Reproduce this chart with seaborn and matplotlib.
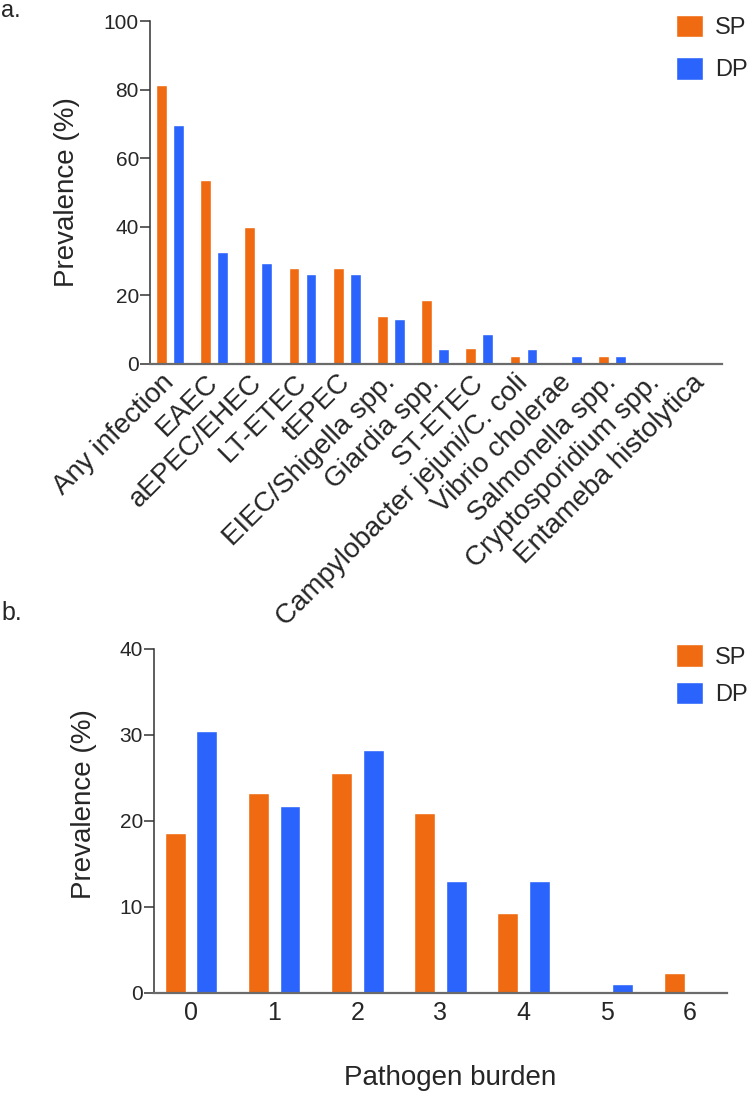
import matplotlib
matplotlib.use('Agg')
import matplotlib.pyplot as plt
import matplotlib.transforms as mtransforms
import numpy as np
import pandas as pd
import seaborn as sns

# ---- data ----
pathogens = ["Any infection", "EAEC", "aEPEC/EHEC", "LT-ETEC", "tEPEC",
             "EIEC/Shigella spp.", "Giardia spp.", "ST-ETEC",
             "Campylobacter jejuni/C. coli", "Vibrio cholerae",
             "Salmonella spp.", "Cryptosporidium spp.", "Entameba histolytica"]
sp_prev = [81.4, 53.5, 39.8, 27.9, 27.9, 14.0, 18.6, 4.7, 2.3, 0.0, 2.3, 0.0, 0.0]
dp_prev = [69.6, 32.6, 29.5, 26.1, 26.1, 13.0, 4.4, 8.7, 4.4, 2.2, 2.2, 0.0, 0.0]

burden = [0, 1, 2, 3, 4, 5, 6]
sp_burden = [18.6, 23.3, 25.6, 20.9, 9.3, 0.0, 2.3]
dp_burden = [30.4, 21.7, 28.3, 13.0, 13.0, 1.0, 0.0]

groups = ["SP", "DP"]
colors = {"SP": "#F06A11", "DP": "#2B64FC"}

df_a = pd.DataFrame({
    "pathogen": pathogens * 2,
    "group": ["SP"] * len(pathogens) + ["DP"] * len(pathogens),
    "prev": sp_prev + dp_prev,
})
df_b = pd.DataFrame({
    "burden": burden * 2,
    "group": ["SP"] * len(burden) + ["DP"] * len(burden),
    "prev": sp_burden + dp_burden,
})

sns.set_theme(style="ticks")
plt.rcParams['font.family'] = ['Liberation Sans', 'DejaVu Sans']

fig = plt.figure(figsize=(7.5, 10.95), dpi=100)
ax1 = fig.add_axes([0.2, 0.6676, 0.7627, 0.3132])
ax2 = fig.add_axes([0.2053, 0.0932, 0.764, 0.3142])


def style_axis(ax):
    sns.despine(ax=ax)
    ax.spines['left'].set_color('#333333')
    ax.spines['bottom'].set_color('#6b6b6b')
    ax.spines['left'].set_linewidth(1.1)
    ax.spines['bottom'].set_linewidth(1.6)
    ax.tick_params(axis='y', length=7, width=1.1, color='#333333',
                   labelsize=15, pad=1)
    ax.tick_params(axis='x', length=0)


# ---- panel a ----
sns.barplot(data=df_a, x="pathogen", y="prev", hue="group", order=pathogens,
            hue_order=groups, palette=colors, width=0.77, gap=0.36,
            saturation=1, ax=ax1)
ax1.set_ylim(0, 100)
ax1.set_yticks([0, 20, 40, 60, 80, 100])
ax1.set_xlim(-0.45, 12.49)
ax1.set_xlabel("")
ax1.set_ylabel("Prevalence (%)", fontsize=20)
ax1.yaxis.set_label_coords(-0.122, 0.5)
style_axis(ax1)
ax1.tick_params(axis='x', pad=4)
shift = mtransforms.ScaledTranslation(-0.09, 0, fig.dpi_scale_trans)
for lab in ax1.get_xticklabels():
    lab.set_rotation(45)
    lab.set_ha('right')
    lab.set_va('top')
    lab.set_rotation_mode('anchor')
    lab.set_fontsize(20)
    lab.set_transform(lab.get_transform() + shift)
sns.move_legend(ax1, loc='upper left', bbox_to_anchor=(0.9013, 0.9865),
                bbox_transform=fig.transFigure, frameon=False, title=None,
                fontsize=17, handlelength=1.14, handleheight=1.1,
                labelspacing=0.75, handletextpad=0.5, borderpad=0,
                borderaxespad=0)

# ---- panel b ----
sns.barplot(data=df_b, x="burden", y="prev", hue="group", order=burden,
            hue_order=groups, palette=colors, width=0.76, gap=0.34,
            saturation=1, ax=ax2)
ax2.set_ylim(0, 40)
ax2.set_yticks([0, 10, 20, 30, 40])
ax2.set_xlim(-0.445, 6.445)
ax2.set_xlabel("Pathogen burden", fontsize=20)
ax2.xaxis.set_label_coords(0.517, -0.21)
ax2.set_ylabel("Prevalence (%)", fontsize=20)
ax2.yaxis.set_label_coords(-0.099, 0.55)
style_axis(ax2)
ax2.tick_params(axis='x', labelsize=18, pad=6)
sns.move_legend(ax2, loc='upper left', bbox_to_anchor=(0.9013, 0.4115),
                bbox_transform=fig.transFigure, frameon=False, title=None,
                fontsize=17, handlelength=1.14, handleheight=1.1,
                labelspacing=0.55, handletextpad=0.5, borderpad=0,
                borderaxespad=0)

fig.text(0.002, 1 - 17 / 1095, "a.", fontsize=17, va='baseline')
fig.text(0.002, 1 - 620 / 1095, "b.", fontsize=18, va='baseline')

fig.savefig("out.png", dpi=100)
plt.close(fig)
